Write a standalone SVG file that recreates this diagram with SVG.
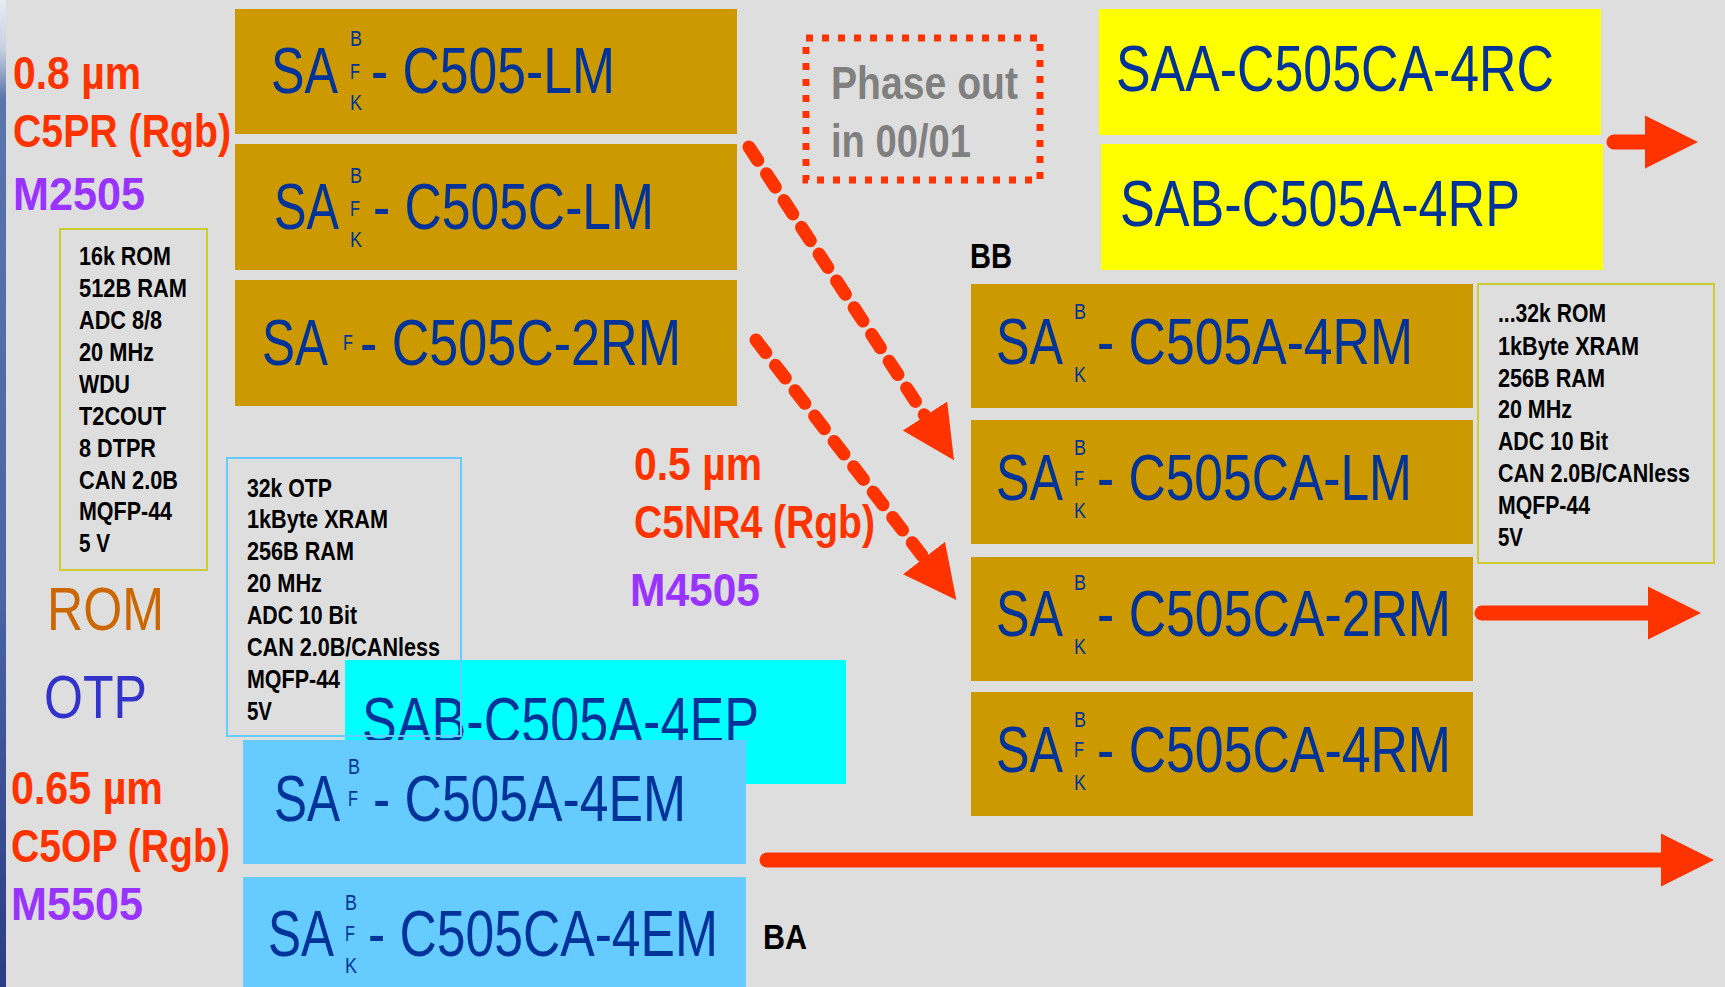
<svg xmlns="http://www.w3.org/2000/svg" width="1725" height="987" viewBox="0 0 1725 987">
<style>
.bg{fill:#dedede}
.gold{fill:#cc9900}
.yel{fill:#ffff00}
.cyan{fill:#00ffff}
.lblue{fill:#66ccff}
.big{font-family:"Liberation Sans",Arial,sans-serif;font-size:64px;fill:#003399}
.sm{font-family:"Liberation Sans",Arial,sans-serif;font-size:22px;fill:#003399}
.spec{font-family:"Liberation Sans",Arial,sans-serif;font-weight:bold;font-size:25px;fill:#000}
.lab{font-family:"Liberation Sans",Arial,sans-serif;font-weight:bold;font-size:46px}
.red{fill:#ff3300}
.pur{fill:#9933ff}
.boxY{fill:none;stroke:#cccc33;stroke-width:2}
.boxB{fill:none;stroke:#66ccff;stroke-width:2}
.arr{fill:none;stroke:#ff3300;stroke-width:15;stroke-linecap:round}
.dash{fill:none;stroke:#ff3300;stroke-width:13;stroke-linecap:round;stroke-dasharray:16 16}
.tag{font-family:"Liberation Sans",Arial,sans-serif;font-weight:bold;font-size:35px;fill:#000}
</style>
<defs>
<linearGradient id="strip" x1="0" y1="0" x2="0" y2="1">
<stop offset="0" stop-color="#e8ecf4"/>
<stop offset="0.05" stop-color="#c8d0e0"/>
<stop offset="0.1" stop-color="#5a74ac"/>
<stop offset="0.6" stop-color="#4a64a4"/>
<stop offset="1" stop-color="#2c3c84"/>
</linearGradient>
<marker id="head" markerUnits="userSpaceOnUse" markerWidth="56" markerHeight="56" viewBox="0 -28 56 56" refX="0" refY="0" orient="auto">
<path d="M0,-26.5 L53,0 L0,26.5 Z" fill="#ff3300"/>
</marker>
</defs>
<rect class="bg" x="0" y="0" width="1725" height="987"/>
<rect x="0" y="0" width="6" height="987" fill="url(#strip)"/>

<g id="labels-left">
<text class="lab red" x="13" y="89" textLength="128" lengthAdjust="spacingAndGlyphs">0.8 µm</text>
<text class="lab red" x="13" y="147" textLength="218" lengthAdjust="spacingAndGlyphs">C5PR (Rgb)</text>
<text class="lab pur" x="13" y="210" textLength="132" lengthAdjust="spacingAndGlyphs">M2505</text>
<text x="47" y="630" font-family="Liberation Sans, Arial, sans-serif" font-size="61" fill="#cc6600" textLength="117" lengthAdjust="spacingAndGlyphs">ROM</text>
<text x="44" y="718" font-family="Liberation Sans, Arial, sans-serif" font-size="61" fill="#3333cc" textLength="103" lengthAdjust="spacingAndGlyphs">OTP</text>
<text class="lab red" x="11" y="804" textLength="152" lengthAdjust="spacingAndGlyphs">0.65 µm</text>
<text class="lab red" x="11" y="862" textLength="219" lengthAdjust="spacingAndGlyphs">C5OP (Rgb)</text>
<text class="lab pur" x="11" y="920" textLength="132" lengthAdjust="spacingAndGlyphs">M5505</text>
</g>

<g id="labels-mid">
<text class="lab red" x="634" y="480" textLength="128" lengthAdjust="spacingAndGlyphs">0.5 µm</text>
<text class="lab red" x="634" y="538" textLength="241" lengthAdjust="spacingAndGlyphs">C5NR4 (Rgb)</text>
<text class="lab pur" x="630" y="606" textLength="130" lengthAdjust="spacingAndGlyphs">M4505</text>
</g>

<g id="spec-rom">
<rect class="boxY" x="60" y="229" width="147" height="341"/>
<text class="spec" x="79" y="265" textLength="92" lengthAdjust="spacingAndGlyphs">16k ROM</text>
<text class="spec" x="79" y="297" textLength="108" lengthAdjust="spacingAndGlyphs">512B RAM</text>
<text class="spec" x="79" y="329" textLength="83" lengthAdjust="spacingAndGlyphs">ADC 8/8</text>
<text class="spec" x="79" y="361" textLength="75" lengthAdjust="spacingAndGlyphs">20 MHz</text>
<text class="spec" x="79" y="393" textLength="51" lengthAdjust="spacingAndGlyphs">WDU</text>
<text class="spec" x="79" y="425" textLength="87" lengthAdjust="spacingAndGlyphs">T2COUT</text>
<text class="spec" x="79" y="457" textLength="77" lengthAdjust="spacingAndGlyphs">8 DTPR</text>
<text class="spec" x="79" y="489" textLength="99" lengthAdjust="spacingAndGlyphs">CAN 2.0B</text>
<text class="spec" x="79" y="520" textLength="93" lengthAdjust="spacingAndGlyphs">MQFP-44</text>
<text class="spec" x="79" y="552" textLength="31" lengthAdjust="spacingAndGlyphs">5 V</text>
</g>

<g id="n-c505-lm">
<rect class="gold" x="235" y="9" width="502" height="125"/>
<text class="big" x="271" y="93" textLength="67" lengthAdjust="spacingAndGlyphs">SA</text>
<text class="sm" x="350" y="46" textLength="12" lengthAdjust="spacingAndGlyphs">B</text>
<text class="sm" x="350" y="79" textLength="10" lengthAdjust="spacingAndGlyphs">F</text>
<text class="sm" x="350" y="110" textLength="12" lengthAdjust="spacingAndGlyphs">K</text>
<text class="big" x="371" y="93" textLength="244" lengthAdjust="spacingAndGlyphs">- C505-LM</text>
</g>
<g id="n-c505c-lm">
<rect class="gold" x="235" y="144" width="502" height="126"/>
<text class="big" x="274" y="229" textLength="65" lengthAdjust="spacingAndGlyphs">SA</text>
<text class="sm" x="350" y="183" textLength="12" lengthAdjust="spacingAndGlyphs">B</text>
<text class="sm" x="350" y="216" textLength="10" lengthAdjust="spacingAndGlyphs">F</text>
<text class="sm" x="350" y="247" textLength="12" lengthAdjust="spacingAndGlyphs">K</text>
<text class="big" x="373" y="229" textLength="281" lengthAdjust="spacingAndGlyphs">- C505C-LM</text>
</g>
<g id="n-c505c-2rm">
<rect class="gold" x="235" y="280" width="502" height="126"/>
<text class="big" x="262" y="365" textLength="66" lengthAdjust="spacingAndGlyphs">SA</text>
<text class="sm" x="343" y="350" textLength="10" lengthAdjust="spacingAndGlyphs">F</text>
<text class="big" x="360" y="365" textLength="321" lengthAdjust="spacingAndGlyphs">- C505C-2RM</text>
</g>

<g id="n-phaseout">
<rect x="806" y="38" width="234" height="142" fill="none" stroke="#ff3300" stroke-width="7" stroke-dasharray="7 9"/>
<text class="lab" fill="#808080" x="831" y="99" textLength="187" lengthAdjust="spacingAndGlyphs">Phase out</text>
<text class="lab" fill="#808080" x="831" y="157" textLength="140" lengthAdjust="spacingAndGlyphs">in 00/01</text>
</g>

<g id="n-saa-c505ca-4rc">
<rect class="yel" x="1099" y="9" width="502" height="126"/>
<text class="big" x="1116" y="91" textLength="438" lengthAdjust="spacingAndGlyphs">SAA-C505CA-4RC</text>
</g>
<g id="n-sab-c505a-4rp">
<rect class="yel" x="1101" y="144" width="502" height="126"/>
<text class="big" x="1120" y="226" textLength="400" lengthAdjust="spacingAndGlyphs">SAB-C505A-4RP</text>
</g>

<text class="tag" id="lbl-bb" x="970" y="268" textLength="42" lengthAdjust="spacingAndGlyphs">BB</text>

<g id="n-c505a-4rm">
<rect class="gold" x="971" y="284" width="502" height="124"/>
<text class="big" x="996" y="364" textLength="67" lengthAdjust="spacingAndGlyphs">SA</text>
<text class="sm" x="1074" y="319" textLength="12" lengthAdjust="spacingAndGlyphs">B</text>
<text class="sm" x="1074" y="382" textLength="12" lengthAdjust="spacingAndGlyphs">K</text>
<text class="big" x="1097" y="364" textLength="316" lengthAdjust="spacingAndGlyphs">- C505A-4RM</text>
</g>
<g id="n-c505ca-lm">
<rect class="gold" x="971" y="420" width="502" height="124"/>
<text class="big" x="996" y="500" textLength="67" lengthAdjust="spacingAndGlyphs">SA</text>
<text class="sm" x="1074" y="455" textLength="12" lengthAdjust="spacingAndGlyphs">B</text>
<text class="sm" x="1074" y="486" textLength="10" lengthAdjust="spacingAndGlyphs">F</text>
<text class="sm" x="1074" y="518" textLength="12" lengthAdjust="spacingAndGlyphs">K</text>
<text class="big" x="1097" y="500" textLength="315" lengthAdjust="spacingAndGlyphs">- C505CA-LM</text>
</g>
<g id="n-c505ca-2rm">
<rect class="gold" x="971" y="557" width="502" height="124"/>
<text class="big" x="996" y="636" textLength="67" lengthAdjust="spacingAndGlyphs">SA</text>
<text class="sm" x="1074" y="590" textLength="12" lengthAdjust="spacingAndGlyphs">B</text>
<text class="sm" x="1074" y="654" textLength="12" lengthAdjust="spacingAndGlyphs">K</text>
<text class="big" x="1097" y="636" textLength="354" lengthAdjust="spacingAndGlyphs">- C505CA-2RM</text>
</g>
<g id="n-c505ca-4rm">
<rect class="gold" x="971" y="692" width="502" height="124"/>
<text class="big" x="996" y="772" textLength="67" lengthAdjust="spacingAndGlyphs">SA</text>
<text class="sm" x="1074" y="727" textLength="12" lengthAdjust="spacingAndGlyphs">B</text>
<text class="sm" x="1074" y="757" textLength="10" lengthAdjust="spacingAndGlyphs">F</text>
<text class="sm" x="1074" y="790" textLength="12" lengthAdjust="spacingAndGlyphs">K</text>
<text class="big" x="1097" y="772" textLength="354" lengthAdjust="spacingAndGlyphs">- C505CA-4RM</text>
</g>

<g id="spec-rom32">
<rect class="boxY" x="1478" y="284" width="236" height="279"/>
<text class="spec" x="1498" y="322" textLength="108" lengthAdjust="spacingAndGlyphs">...32k ROM</text>
<text class="spec" x="1498" y="355" textLength="141" lengthAdjust="spacingAndGlyphs">1kByte XRAM</text>
<text class="spec" x="1498" y="387" textLength="107" lengthAdjust="spacingAndGlyphs">256B RAM</text>
<text class="spec" x="1498" y="418" textLength="74" lengthAdjust="spacingAndGlyphs">20 MHz</text>
<text class="spec" x="1498" y="450" textLength="110" lengthAdjust="spacingAndGlyphs">ADC 10 Bit</text>
<text class="spec" x="1498" y="482" textLength="192" lengthAdjust="spacingAndGlyphs">CAN 2.0B/CANless</text>
<text class="spec" x="1498" y="514" textLength="92" lengthAdjust="spacingAndGlyphs">MQFP-44</text>
<text class="spec" x="1498" y="546" textLength="25" lengthAdjust="spacingAndGlyphs">5V</text>
</g>

<g id="n-sab-c505a-4ep">
<rect class="cyan" x="345" y="660" width="501" height="124"/>
<text class="big" x="362" y="743" textLength="397" lengthAdjust="spacingAndGlyphs">SAB-C505A-4EP</text>
</g>

<g id="spec-otp">
<rect class="boxB" x="227" y="458" width="234" height="278"/>
<text class="spec" x="247" y="497" textLength="85" lengthAdjust="spacingAndGlyphs">32k OTP</text>
<text class="spec" x="247" y="528" textLength="141" lengthAdjust="spacingAndGlyphs">1kByte XRAM</text>
<text class="spec" x="247" y="560" textLength="107" lengthAdjust="spacingAndGlyphs">256B RAM</text>
<text class="spec" x="247" y="592" textLength="75" lengthAdjust="spacingAndGlyphs">20 MHz</text>
<text class="spec" x="247" y="624" textLength="110" lengthAdjust="spacingAndGlyphs">ADC 10 Bit</text>
<text class="spec" x="247" y="656" textLength="193" lengthAdjust="spacingAndGlyphs">CAN 2.0B/CANless</text>
<text class="spec" x="247" y="688" textLength="93" lengthAdjust="spacingAndGlyphs">MQFP-44</text>
<text class="spec" x="247" y="720" textLength="25" lengthAdjust="spacingAndGlyphs">5V</text>
</g>

<g id="n-c505a-4em">
<rect class="lblue" x="243" y="740" width="503" height="124"/>
<text class="big" x="274" y="821" textLength="66" lengthAdjust="spacingAndGlyphs">SA</text>
<text class="sm" x="348" y="774" textLength="12" lengthAdjust="spacingAndGlyphs">B</text>
<text class="sm" x="348" y="806" textLength="10" lengthAdjust="spacingAndGlyphs">F</text>
<text class="big" x="373" y="821" textLength="313" lengthAdjust="spacingAndGlyphs">- C505A-4EM</text>
</g>
<g id="n-c505ca-4em">
<rect class="lblue" x="243" y="877" width="503" height="110"/>
<text class="big" x="268" y="956" textLength="66" lengthAdjust="spacingAndGlyphs">SA</text>
<text class="sm" x="345" y="910" textLength="12" lengthAdjust="spacingAndGlyphs">B</text>
<text class="sm" x="345" y="941" textLength="10" lengthAdjust="spacingAndGlyphs">F</text>
<text class="sm" x="345" y="973" textLength="12" lengthAdjust="spacingAndGlyphs">K</text>
<text class="big" x="368" y="956" textLength="350" lengthAdjust="spacingAndGlyphs">- C505CA-4EM</text>
</g>

<text class="tag" id="lbl-ba" x="763" y="949" textLength="44" lengthAdjust="spacingAndGlyphs">BA</text>

<g id="connectors">
<path class="dash" d="M749,147 L925,416" marker-end="url(#head)"/>
<path class="dash" d="M756,340 L924,558" marker-end="url(#head)"/>
<path class="arr" d="M1614,142 L1645,142" marker-end="url(#head)"/>
<path class="arr" d="M1482,613 L1648,613" marker-end="url(#head)"/>
<path class="arr" d="M767,860 L1661,860" marker-end="url(#head)"/>
</g>
</svg>
